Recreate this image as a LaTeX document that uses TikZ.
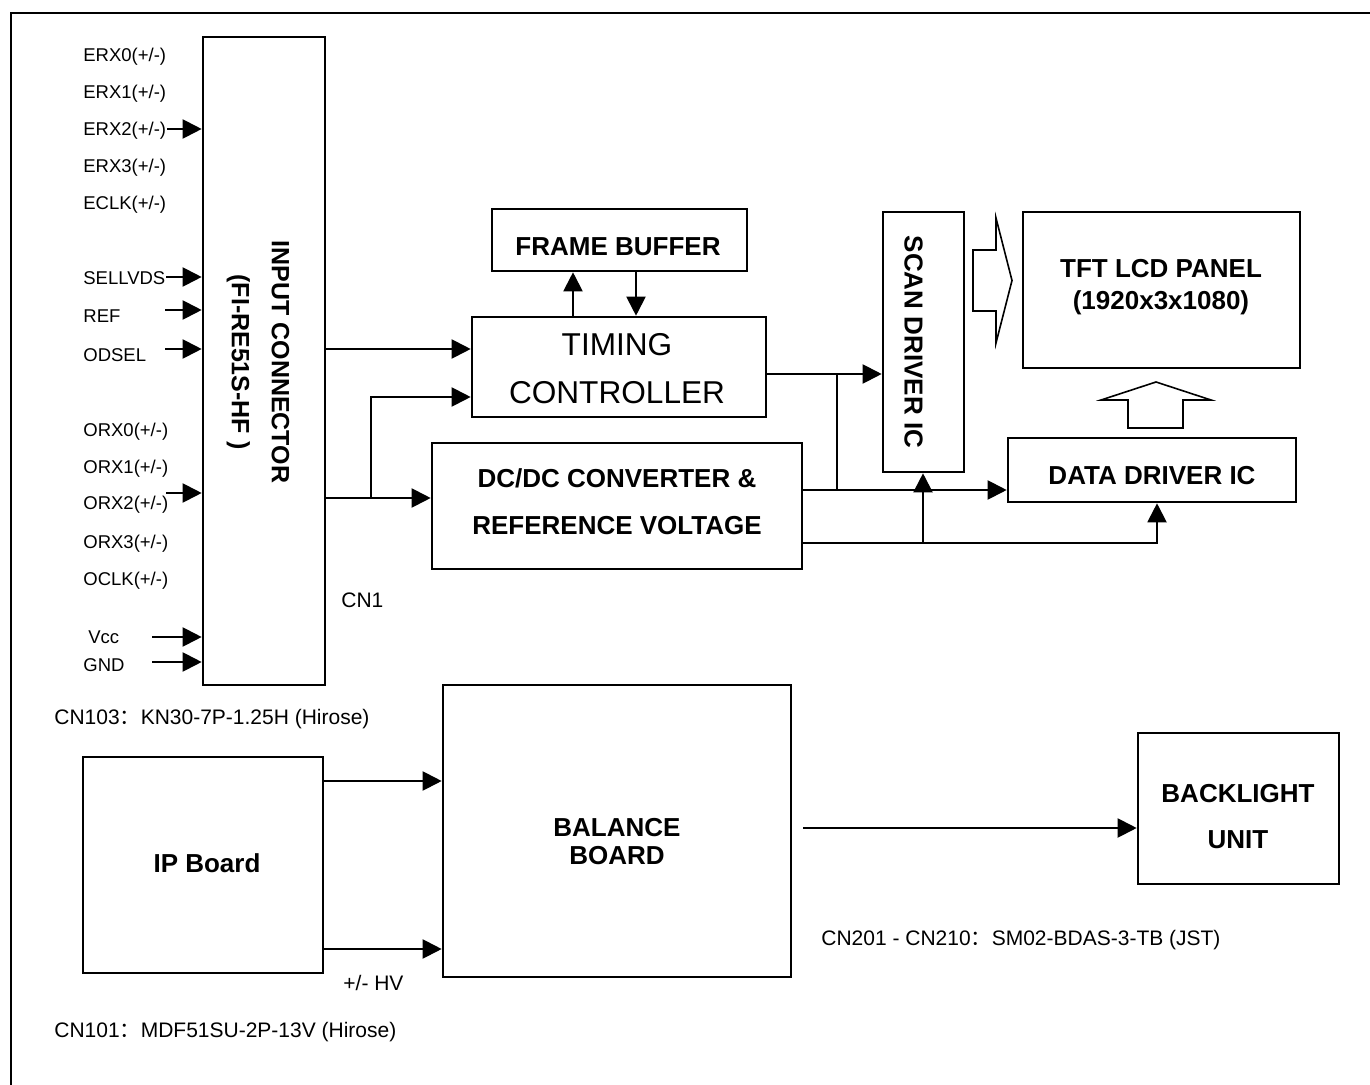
\documentclass[tikz,border=0pt]{standalone}
\usepackage{fontspec}
\setmainfont{Liberation Sans}
\newfontfamily\cjk{Noto Sans CJK SC}
\usetikzlibrary{arrows.meta}
\begin{document}
\begin{tikzpicture}[x=0.5pt,y=-0.5pt,
  box/.style={draw, line width=1.3pt, inner sep=0pt},
  conn/.style={line width=1pt, -{Triangle[length=9.5pt,width=9.5pt]}},
  wire/.style={line width=1pt},
  sig/.style={anchor=west, inner sep=0pt, text height=6.6pt, text depth=0pt, font=\fontsize{9.25}{11}\selectfont},
  note/.style={anchor=west, inner sep=0pt, text height=7.5pt, text depth=0pt, font=\fontsize{10.5}{12}\selectfont},
  bold/.style={inner sep=0pt, align=center, font=\fontsize{13}{16}\bfseries\selectfont},
  hollow/.style={draw, line width=0.8pt, fill=white, line join=miter},
]
\useasboundingbox (0,0) rectangle (1370,1085);
\fill[white] (0,0) rectangle (1370,1085);
\draw[line width=1pt] (11,1085) -- (11,13) -- (1370,13);

% boxes
\node[box, minimum width=61pt, minimum height=324pt] (conn) at (264,361) {};
\node[box, minimum width=127.5pt, minimum height=31pt] (fb) at (619.5,240) {};
\node[box, minimum width=147pt, minimum height=50pt] (tc) at (619,367) {};
\node[box, minimum width=185pt, minimum height=63pt] (dc) at (617,506) {};
\node[box, minimum width=40.5pt, minimum height=130pt] (scan) at (923.5,342) {};
\node[box, minimum width=138.5pt, minimum height=78pt] (tft) at (1161.5,290) {};
\node[box, minimum width=144pt, minimum height=32pt] (dd) at (1152,470) {};
\node[box, minimum width=174pt, minimum height=146pt] (bal) at (617,831) {};
\node[box, minimum width=120pt, minimum height=108pt] (ip) at (203,865) {};
\node[box, minimum width=100.5pt, minimum height=75.5pt] (bl) at (1238.5,808.5) {};

% box texts
\node[inner sep=0pt, align=center, rotate=-90, font=\fontsize{12.5}{20}\bfseries\selectfont] (connT) at (258,362) {INPUT CONNECTOR\\(FI-RE51S-HF )};
\node[bold, text height=9.3pt, text depth=0pt] (fbT) at (618,246) {FRAME BUFFER};
\node[inner sep=0pt, align=center, font=\fontsize{15.8}{24}\selectfont] (tcT) at (617,369) {TIMING\\CONTROLLER};
\node[bold, font=\fontsize{13}{23.5}\bfseries\selectfont] (dcT) at (617,501.5) {DC/DC CONVERTER \&\\REFERENCE VOLTAGE};
\node[bold, rotate=-90, text height=9.3pt, text depth=0pt] (scanT) at (914,342) {SCAN DRIVER IC};
\node[bold, font=\fontsize{13}{16}\bfseries\selectfont] (tftT) at (1161,287) {TFT LCD PANEL\\(1920x3x1080)};
\node[bold, text height=9.3pt, text depth=0pt] (ddT) at (1152,475) {DATA DRIVER IC};
\node[bold, font=\fontsize{13}{14}\bfseries\selectfont] (balT) at (617,842) {BALANCE\\BOARD};
\node[bold, text height=9.3pt, text depth=0pt] (ipT) at (207,863) {IP Board};
\node[bold, font=\fontsize{13}{23}\bfseries\selectfont] (blT) at (1238,817) {BACKLIGHT\\UNIT};

% signal labels
\node[sig] (lERX0) at (83,55) {ERX0(+/-)};
\node[sig] (lERX1) at (83,92) {ERX1(+/-)};
\node[sig] (lERX2) at (83,129) {ERX2(+/-)};
\node[sig] (lERX3) at (83,166) {ERX3(+/-)};
\node[sig] (lECLK) at (83,203) {ECLK(+/-)};
\node[sig] (lSEL) at (83,278) {SELLVDS};
\node[sig] (lREF) at (83,316) {REF};
\node[sig] (lODS) at (83,355) {ODSEL};
\node[sig] (lORX0) at (83,430) {ORX0(+/-)};
\node[sig] (lORX1) at (83,467) {ORX1(+/-)};
\node[sig] (lORX2) at (83,503) {ORX2(+/-)};
\node[sig] (lORX3) at (83,542) {ORX3(+/-)};
\node[sig] (lOCLK) at (83,579) {OCLK(+/-)};
\node[sig] (lVcc) at (88,637) {Vcc};
\node[sig] (lGND) at (83,665) {GND};

% notes
\node[note] (nCN1) at (341,600) {CN1};
\node[note] (n103) at (54,717) {CN103{\cjk ：}KN30-7P-1.25H (Hirose)};
\node[note] (nHV) at (343,983) {+/- HV};
\node[note] (n101) at (54,1030) {CN101{\cjk ：}MDF51SU-2P-13V (Hirose)};
\node[note] (n201) at (821,938) {CN201 - CN210{\cjk ：}SM02-BDAS-3-TB (JST)};

% signal arrows
\coordinate (aERX2) at (167,129);
\coordinate (aSEL) at (166,277);
\coordinate (aREF) at (165,310);
\coordinate (aODS) at (165,349);
\coordinate (aORX2) at (166,493);
\coordinate (aVcc) at (152,637);
\coordinate (aGND) at (152,662);
\foreach \a in {aERX2,aSEL,aREF,aODS,aORX2,aVcc,aGND}
  \draw[conn] (\a) -- (\a -| conn.west);

% main connectors
\coordinate (yIn) at (0,349);
\coordinate (yDc) at (0,498);
\coordinate (yBr) at (0,397);
\coordinate (br1) at (371,498);
\draw[conn] (conn.east |- yIn) -- (tc.west |- yIn);
\draw[conn] (conn.east |- yDc) -- (dc.west |- yDc);
\draw[conn] (br1) |- (tc.west |- yBr);

\coordinate (xUp) at (573,0);
\coordinate (xDn) at (636,0);
\draw[conn] (tc.north -| xUp) -- (fb.south -| xUp);
\draw[conn] (fb.south -| xDn) -- (tc.north -| xDn);

\coordinate (yTs) at (0,374);
\coordinate (j2) at (837,374);
\coordinate (j3) at (837,490);
\draw[conn] (tc.east |- yTs) -- (scan.west |- yTs);
\draw[wire] (j2) -- (j3);
\draw[conn] (dc.east |- j3) -- (dd.west |- j3);

\coordinate (yLo) at (0,543);
\coordinate (xDd) at (1157,0);
\coordinate (j4) at (923,543);
\draw[conn] (dc.east |- yLo) -| (dd.south -| xDd);
\draw[conn] (j4) -- (scan.south -| j4);

\coordinate (yIp1) at (0,781);
\coordinate (yIp2) at (0,949);
\draw[conn] (ip.east |- yIp1) -- (bal.west |- yIp1);
\draw[conn] (ip.east |- yIp2) -- (bal.west |- yIp2);
\coordinate (blS) at (803,828);
\draw[conn] (blS) -- (bl.west |- blS);

% hollow arrows
\draw[hollow] (973,250) -- (996,250) -- (996,218) -- (1012,280.5) -- (996,343) -- (996,311) -- (973,311) -- cycle;
\draw[hollow] (1128,428) -- (1128,400) -- (1101,400) -- (1156,382) -- (1211,400) -- (1183,400) -- (1183,428) -- cycle;
\end{tikzpicture}
\end{document}
